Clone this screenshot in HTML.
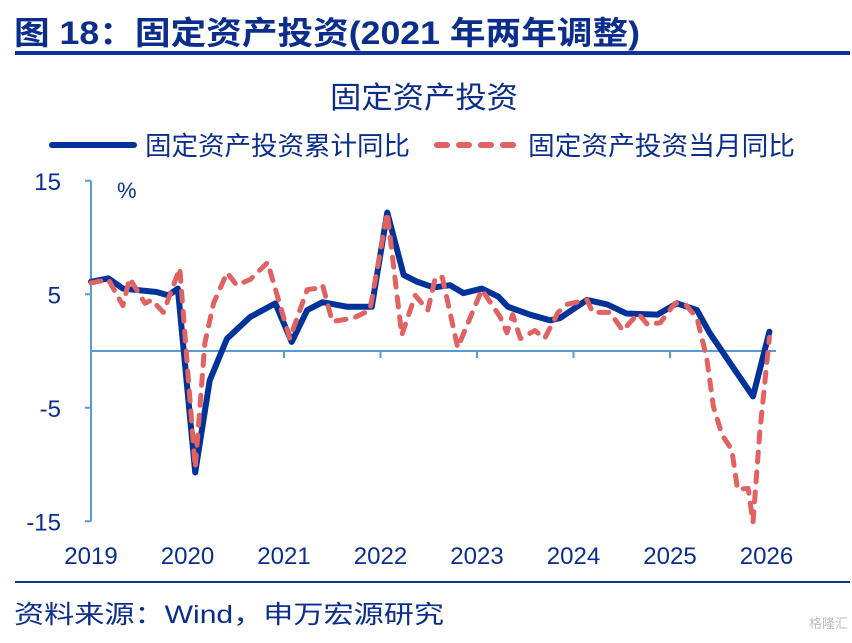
<!DOCTYPE html>
<html><head><meta charset="utf-8"><style>
body{margin:0;background:#fff;width:852px;height:638px;overflow:hidden;font-family:"Liberation Sans","Noto Sans CJK SC",sans-serif;}
</style></head><body>
<svg width="852" height="638" xmlns="http://www.w3.org/2000/svg" style="font-family:'Liberation Sans','Noto Sans CJK SC',sans-serif">
<text x="14" y="44" font-size="32" font-weight="bold" fill="#0b2e8c" textLength="626" lengthAdjust="spacingAndGlyphs">图 18：固定资产投资(2021 年两年调整)</text>
<rect x="15" y="51" width="835" height="4" fill="#0b3399"/>
<text x="330" y="108" font-size="30" fill="#0b2e8c" textLength="188" lengthAdjust="spacingAndGlyphs">固定资产投资</text>
<g>
<line x1="52" y1="145" x2="134" y2="145" stroke="#003399" stroke-width="6" stroke-linecap="round"/>
<text x="145" y="155" font-size="26" fill="#0b2e8c" textLength="265" lengthAdjust="spacingAndGlyphs">固定资产投资累计同比</text>
<line x1="437" y1="145" x2="518" y2="145" stroke="#e06262" stroke-width="6" stroke-linecap="round" stroke-dasharray="10 12"/>
<text x="528" y="155" font-size="26" fill="#0b2e8c" textLength="267" lengthAdjust="spacingAndGlyphs">固定资产投资当月同比</text>
</g>
<g id="axes"></g>
<g id="series"></g>
<text x="117" y="198" font-size="22" fill="#0b2e8c">%</text>
<rect x="15" y="581" width="835" height="2" fill="#0b3399"/>
<text x="14" y="623" font-size="25" fill="#0b2e8c" textLength="430" lengthAdjust="spacingAndGlyphs">资料来源：Wind，申万宏源研究</text>
<text x="848" y="628" font-size="13" text-anchor="end" fill="#bbb">格隆汇</text>
</svg>
<script>
const yTicks=[15,5,-5,-15];
const xYears=[2019,2020,2021,2022,2023,2024,2025,2026];
const cumT=[2019.0,2019.18,2019.33,2019.68,2019.8,2019.9,2020.08,2020.23,2020.41,2020.65,2020.91,2021.08,2021.24,2021.4,2021.65,2021.91,2022.07,2022.24,2022.38,2022.55,2022.72,2022.86,2023.05,2023.22,2023.32,2023.55,2023.76,2023.86,2024.14,2024.35,2024.55,2024.87,2025.07,2025.28,2025.41,2025.69,2025.86,2026.03];
const cumV=[6.1,6.4,5.5,5.2,4.9,5.5,-10.7,-2.6,1.1,3.0,4.2,0.8,3.6,4.3,3.9,3.9,12.2,6.7,6.1,5.6,5.8,5.1,5.5,4.8,3.9,3.2,2.7,2.9,4.5,4.1,3.3,3.2,4.2,3.6,1.6,-1.9,-4.0,1.7];
const monT=[2019.0,2019.18,2019.33,2019.4,2019.56,2019.63,2019.75,2019.92,2020.08,2020.18,2020.27,2020.41,2020.51,2020.65,2020.83,2021.06,2021.24,2021.32,2021.4,2021.5,2021.72,2021.89,2022.07,2022.22,2022.36,2022.49,2022.57,2022.64,2022.8,2023.05,2023.24,2023.31,2023.37,2023.45,2023.6,2023.7,2023.84,2023.93,2024.14,2024.2,2024.38,2024.51,2024.67,2024.77,2024.9,2025.05,2025.16,2025.28,2025.38,2025.45,2025.54,2025.64,2025.7,2025.81,2025.86,2025.93,2026.03];
const monV=[6.0,6.3,4.0,6.4,4.2,4.5,3.4,7.3,-10.3,0.7,4.2,6.9,5.8,6.3,7.8,1.1,5.4,5.5,5.8,2.6,2.9,3.6,12.2,1.4,4.9,3.6,6.5,6.5,0.3,5.4,3.0,1.6,3.2,1.1,1.8,1.1,3.4,4.1,4.5,3.4,3.4,1.8,3.3,2.3,2.5,4.2,4.1,2.9,-0.6,-4.9,-7.4,-8.7,-12.2,-12.1,-15.1,-7.2,1.2];
const NS='http://www.w3.org/2000/svg';
const X=t=>91+(t-2019)*96.5;
const Y=v=>351-v*11.35;
const ax=document.getElementById('axes'),se=document.getElementById('series');
function mk(tag,at,parent){const e=document.createElementNS(NS,tag);for(const k in at)e.setAttribute(k,at[k]);parent.appendChild(e);return e;}
let l=mk('line',{x1:91,y1:Y(15),x2:91,y2:Y(-15),stroke:'#5b9bd5','stroke-width':2},ax);


l=mk('line',{x1:91,y1:Y(0),x2:776,y2:Y(0),stroke:'#5b9bd5','stroke-width':2},ax);


yTicks.forEach(v=>{
 const t=mk('line',{x1:85,y1:Y(v),x2:91,y2:Y(v),stroke:'#5b9bd5','stroke-width':2},ax);
 
 
 const tx=mk('text',{x:61,y:Y(v)+9,'font-size':24,'text-anchor':'end',fill:'#0b2e8c'},ax);tx.textContent=v;
 
 
});
xYears.forEach(yr=>{
 if(yr>2019){const t=mk('line',{x1:X(yr),y1:Y(0),x2:X(yr),y2:Y(0)+7,stroke:'#5b9bd5','stroke-width':2},ax);
 
 }
 const tx=mk('text',{x:X(yr),y:564,'font-size':24,'text-anchor':'middle',fill:'#0b2e8c'},ax);tx.textContent=yr;
 
 
});
let p=mk('polyline',{points:cumT.map((t,i)=>X(t)+','+Y(cumV[i])).join(' '),fill:'none',stroke:'#003399','stroke-width':6,'stroke-linejoin':'round','stroke-linecap':'round'},se);


p=mk('polyline',{points:monT.map((t,i)=>X(t)+','+Y(monV[i])).join(' '),fill:'none',stroke:'#e06262','stroke-width':5,'stroke-linejoin':'round','stroke-linecap':'round','stroke-dasharray':'10 10'},se);


</script>
</body></html>
